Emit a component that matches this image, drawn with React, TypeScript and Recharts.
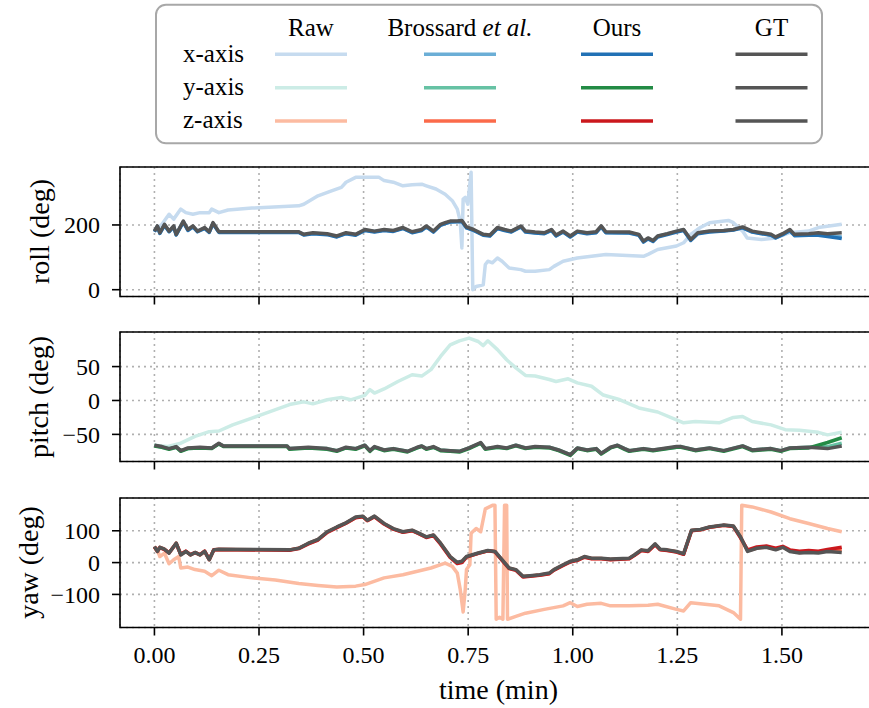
import React from 'react';
import { LineChart, Line, XAxis, YAxis, CartesianGrid, ReferenceArea } from 'recharts';

// ---------- shared axis data ----------
const timeTicks = [0, 0.25, 0.5, 0.75, 1.0, 1.25, 1.5];
const xDomain: [number, number] = [-0.0823, 1.7273];

// ---------- roll ----------
const rollTicks = [0, 200];
const rollDomain: [number, number] = [-21, 379];
const rollRawT = [0, 0.018, 0.035, 0.046, 0.063, 0.075, 0.092, 0.109, 0.131, 0.137, 0.154, 0.176, 0.233, 0.345, 0.357, 0.391, 0.425, 0.447, 0.458, 0.481, 0.537, 0.549, 0.571, 0.594, 0.616, 0.639, 0.65, 0.673, 0.695, 0.712, 0.724, 0.731, 0.735, 0.738, 0.743, 0.749, 0.757, 0.761, 0.769, 0.786, 0.791, 0.797, 0.808, 0.82, 0.831, 0.848, 0.876, 0.887, 0.91, 0.944, 0.955, 0.977, 1.011, 1.079, 1.169, 1.18, 1.203, 1.248, 1.265, 1.282, 1.305, 1.327, 1.372, 1.384, 1.406, 1.417, 1.451, 1.485, 1.519, 1.564, 1.587, 1.643];
const rollRaw = [181, 202, 233, 218, 249, 238, 233, 238, 238, 249, 238, 246, 252, 259, 264, 290, 306, 316, 332, 347, 347, 337, 332, 321, 324, 326, 321, 311, 295, 275, 249, 212, 129, 280, 285, 264, 363, 0, 10, 15, 78, 88, 83, 98, 88, 67, 62, 57, 57, 62, 72, 88, 98, 109, 103, 109, 124, 135, 145, 171, 192, 207, 214, 207, 181, 160, 155, 160, 176, 181, 192, 202];
const rollT = [0, 0.007, 0.013, 0.024, 0.035, 0.046, 0.052, 0.069, 0.08, 0.092, 0.103, 0.12, 0.131, 0.14, 0.154, 0.345, 0.357, 0.379, 0.413, 0.436, 0.458, 0.481, 0.503, 0.526, 0.549, 0.571, 0.594, 0.616, 0.639, 0.65, 0.667, 0.684, 0.695, 0.707, 0.724, 0.735, 0.746, 0.763, 0.786, 0.802, 0.82, 0.837, 0.853, 0.876, 0.887, 0.91, 0.932, 0.949, 0.96, 0.977, 0.994, 1.011, 1.034, 1.056, 1.068, 1.079, 1.135, 1.158, 1.169, 1.18, 1.192, 1.203, 1.226, 1.248, 1.265, 1.282, 1.299, 1.327, 1.361, 1.384, 1.406, 1.429, 1.451, 1.474, 1.485, 1.502, 1.519, 1.53, 1.564, 1.587, 1.609, 1.643];
const rollGT = [181, 197, 176, 202, 181, 197, 171, 212, 186, 197, 181, 192, 179, 207, 179, 179, 171, 176, 173, 166, 176, 171, 186, 181, 186, 183, 192, 179, 186, 197, 181, 202, 207, 212, 212, 214, 194, 186, 171, 169, 192, 186, 181, 197, 181, 178, 176, 186, 169, 181, 166, 181, 176, 179, 197, 179, 178, 171, 150, 160, 152, 166, 173, 181, 186, 155, 176, 181, 183, 186, 194, 181, 176, 171, 163, 173, 186, 171, 173, 176, 173, 176];
const rollOurs = [179, 195, 174, 199, 179, 194, 169, 209, 183, 194, 179, 189, 177, 204, 177, 177, 169, 173, 170, 163, 173, 168, 183, 178, 183, 180, 189, 176, 183, 194, 178, 199, 204, 209, 210, 211, 191, 183, 168, 166, 189, 183, 178, 194, 178, 175, 173, 183, 166, 178, 163, 178, 173, 176, 194, 176, 175, 168, 147, 157, 149, 163, 170, 178, 183, 152, 173, 178, 181, 184, 191, 178, 173, 168, 160, 170, 182, 167, 168, 168, 164, 158];
const rollBross = [180, 196, 175, 200, 180, 195, 170, 210, 185, 195, 180, 190, 178, 205, 178, 178, 170, 174, 171, 164, 174, 170, 184, 180, 184, 181, 190, 177, 184, 195, 180, 200, 205, 210, 211, 212, 192, 184, 170, 167, 190, 184, 180, 195, 180, 176, 174, 184, 167, 179, 164, 179, 175, 177, 195, 177, 176, 170, 149, 158, 151, 165, 172, 180, 185, 154, 175, 180, 182, 185, 192, 179, 174, 169, 161, 171, 183, 169, 170, 171, 167, 163];

// ---------- pitch ----------
const pitchTicks = [-50, 0, 50];
const pitchDomain: [number, number] = [-90, 101];
const pitchRawT = [0, 0.03, 0.063, 0.097, 0.131, 0.154, 0.187, 0.233, 0.278, 0.323, 0.357, 0.379, 0.413, 0.447, 0.469, 0.503, 0.515, 0.526, 0.549, 0.582, 0.616, 0.639, 0.661, 0.684, 0.707, 0.729, 0.752, 0.774, 0.786, 0.797, 0.82, 0.842, 0.864, 0.887, 0.91, 0.944, 0.96, 0.989, 1.011, 1.045, 1.073, 1.113, 1.158, 1.203, 1.248, 1.265, 1.293, 1.35, 1.384, 1.406, 1.429, 1.474, 1.508, 1.542, 1.587, 1.609, 1.643];
const pitchRaw = [-66, -68, -63, -53, -46, -45, -36, -26, -16, -6, -2, -5, 1, 4.5, 1, 7.5, 16, 11, 17, 28, 38, 36, 45.5, 65, 82, 88, 92, 87, 81, 88, 75, 60, 48, 37, 36, 31, 28, 32, 26, 21, 8, 1, -11, -17, -28.5, -33, -31, -33, -25, -23.6, -31, -36, -43, -44, -47, -50.7, -47];
const pitchT = [0, 0.018, 0.035, 0.052, 0.063, 0.08, 0.109, 0.137, 0.154, 0.165, 0.317, 0.323, 0.368, 0.413, 0.436, 0.458, 0.481, 0.503, 0.515, 0.526, 0.549, 0.571, 0.605, 0.628, 0.639, 0.65, 0.667, 0.684, 0.707, 0.729, 0.752, 0.78, 0.791, 0.82, 0.842, 0.864, 0.887, 0.91, 0.944, 0.966, 0.994, 1.011, 1.034, 1.056, 1.068, 1.09, 1.107, 1.124, 1.135, 1.169, 1.192, 1.248, 1.259, 1.293, 1.327, 1.361, 1.406, 1.429, 1.474, 1.497, 1.519, 1.564, 1.609, 1.643];
const pitchGT = [-66, -68, -71, -68, -74, -70, -69, -70, -63, -67, -67, -71, -69, -71, -74, -69, -71, -66, -74, -68, -73, -71, -75, -69, -67, -71, -68, -73, -74, -75, -70, -62, -71, -68, -70, -66, -70, -68, -69, -73, -80, -70, -73, -71, -78, -69, -66, -71, -74, -71, -73, -68, -68, -73, -70, -74, -67, -73, -71, -74, -70, -69, -71, -67];
const pitchOurs = [-67, -69, -72, -69, -75, -71, -70, -71, -64, -68, -68, -72, -70, -72, -75, -70, -72, -67, -75, -69, -74, -72, -76, -70, -68, -72, -69, -74, -75, -76, -71, -63, -72, -69, -71, -67, -71, -69, -70, -74, -81, -71, -74, -72, -79, -70, -67, -72, -75, -72, -74, -69, -69, -74, -71, -75, -68, -74, -72, -75, -71, -70, -62, -55];
const pitchBross = [-66, -69, -71, -69, -74, -71, -70, -70, -64, -67, -67, -71, -70, -71, -74, -70, -71, -66, -74, -69, -73, -71, -75, -70, -67, -71, -69, -73, -74, -75, -70, -63, -71, -69, -70, -66, -70, -69, -69, -73, -80, -70, -73, -71, -78, -70, -66, -71, -74, -71, -73, -69, -68, -73, -70, -74, -67, -73, -71, -74, -70, -69, -68, -63];

// ---------- yaw ----------
const yawTicks = [-100, 0, 100];
const yawDomain: [number, number] = [-204, 203];
const yawRawT = [0, 0.007, 0.013, 0.024, 0.035, 0.046, 0.058, 0.063, 0.08, 0.097, 0.12, 0.137, 0.154, 0.176, 0.233, 0.289, 0.345, 0.391, 0.436, 0.481, 0.503, 0.549, 0.594, 0.661, 0.695, 0.712, 0.724, 0.731, 0.738, 0.743, 0.746, 0.754, 0.757, 0.769, 0.78, 0.791, 0.808, 0.814, 0.817, 0.825, 0.833, 0.837, 0.842, 0.844, 0.864, 0.887, 0.932, 0.977, 0.994, 1.011, 1.034, 1.068, 1.09, 1.135, 1.18, 1.203, 1.248, 1.265, 1.282, 1.316, 1.35, 1.384, 1.401, 1.404, 1.429, 1.474, 1.519, 1.564, 1.609, 1.643];
const yawRaw = [50, 40, 19, 29.5, -3.6, 8.8, 19, -17, -14, -22, -27.5, -41, -24, -38, -48, -55, -66, -72, -77, -74, -69, -48, -38, -17, -1.5, -12, -33, -84, -155, -84, -22, -7, 92, 107, 97, 169, 180, 180, -178, -172, -178, 180, 180, -178, -169, -159, -147, -136, -126, -138, -131, -128, -136, -136, -134, -131, -147, -152, -126, -131, -136, -157, -178, 180, 175, 159, 138, 123, 107, 97];
const yawT = [0, 0.007, 0.013, 0.024, 0.035, 0.052, 0.063, 0.075, 0.086, 0.097, 0.109, 0.12, 0.131, 0.142, 0.154, 0.323, 0.345, 0.368, 0.391, 0.413, 0.436, 0.458, 0.481, 0.498, 0.509, 0.526, 0.549, 0.571, 0.594, 0.616, 0.633, 0.65, 0.667, 0.684, 0.707, 0.724, 0.735, 0.746, 0.774, 0.797, 0.814, 0.831, 0.848, 0.864, 0.881, 0.898, 0.921, 0.944, 0.955, 0.977, 0.994, 1.011, 1.028, 1.045, 1.068, 1.09, 1.135, 1.147, 1.164, 1.18, 1.197, 1.209, 1.226, 1.248, 1.265, 1.284, 1.305, 1.327, 1.361, 1.384, 1.401, 1.418, 1.44, 1.463, 1.485, 1.502, 1.519, 1.542, 1.564, 1.587, 1.609, 1.643];
const yawGT = [50, 35, 48, 42, 30, 61, 24, 35, 24, 32, 24, 35, 9, 40, 42, 40, 45, 61, 73, 97, 112, 125, 143, 146, 133, 146, 123, 107, 97, 102, 92, 81, 87, 61, 19, 1, 4, 19, 30, 38, 35, 9, -17, -22, -43, -41, -38, -33, -22, -7, 4, 9, 19, 14, 14, 11, 14, 24, 40, 37, 59, 42, 40, 35, 28, 102, 104, 112, 118, 115, 81, 35, 45, 48, 40, 48, 35, 30, 32, 30, 35, 32];
const yawOurs = [50, 36, 47, 41, 31, 60, 26, 36, 25, 31, 25, 36, 10, 40, 41, 39, 44, 59, 71, 95, 110, 124, 141, 144, 132, 144, 121, 105, 95, 100, 90, 79, 85, 58, 16, -3, 0, 17, 29, 37, 34, 7, -19, -24, -45, -43, -40, -35, -24, -9, 2, 7, 17, 12, 12, 9, 12, 22, 38, 35, 56, 40, 38, 33, 26, 100, 103, 111, 117, 113, 78, 40, 49, 52, 45, 51, 40, 36, 38, 36, 41, 48];
const yawBross = [49, 35, 48, 42, 30, 61, 25, 35, 24, 32, 24, 35, 9, 40, 41, 40, 45, 60, 72, 96, 111, 124, 142, 145, 132, 145, 122, 106, 96, 101, 91, 80, 86, 60, 18, -1, 2, 18, 29, 37, 35, 8, -18, -23, -44, -42, -39, -34, -23, -8, 3, 8, 18, 13, 13, 10, 13, 23, 39, 36, 57, 41, 39, 34, 27, 101, 103, 111, 117, 114, 80, 37, 46, 49, 42, 49, 37, 32, 34, 33, 38, 40];

// ---------- legend ----------
const legendCols = ['Raw', 'Brossard', 'Ours', 'GT'];
const legendRows = ['x-axis', 'y-axis', 'z-axis'];
const rawColors = ['#c6dbef', '#ccece6', '#fcbba1'];
const brossColors = ['#6baed6', '#66c2a4', '#fb6a4a'];
const oursColors = ['#2171b5', '#238b45', '#cb181d'];
const gtColor = '#555555';

const FONT = "'Liberation Serif', 'Times New Roman', serif";
const pts = (t: number[], v: number[]) => t.map((x, i) => ({ t: x, v: v[i] }));
const fmtTime = (v: number) => v.toFixed(2);
const fmtNum = (v: number) => (v < 0 ? '\u2212' + Math.abs(v) : String(v));

type Series = { data: { t: number; v: number }[]; color: string; width: number };

function Panel({ top, height, yDomain, yTicks, series, showLabels }: {
  top: number; height: number; yDomain: [number, number]; yTicks: number[]; series: Series[]; showLabels: boolean;
}) {
  const xh = showLabels ? 60 : 20;
  const tickStyle = { fontSize: 24, fill: '#000', fontFamily: FONT };
  return (
    <div style={{ position: 'absolute', left: 0, top: top - 5 }}>
      <LineChart width={882} height={height + 5 + xh} margin={{ top: 5, right: 5, bottom: 0, left: 0 }}>
        <CartesianGrid stroke="#b0b0b0" strokeDasharray="2 4" strokeWidth={1.6} />
        <XAxis
          type="number" dataKey="t" domain={xDomain} ticks={timeTicks} allowDataOverflow interval={0}
          height={xh} tickSize={8} tickMargin={10} axisLine={false}
          tickLine={{ stroke: '#000', strokeWidth: 1.6 }} tick={tickStyle}
          tickFormatter={showLabels ? fmtTime : () => ''}
        />
        <YAxis
          type="number" domain={yDomain} ticks={yTicks} allowDataOverflow interval={0}
          width={120} tickSize={8} tickMargin={12} axisLine={false}
          tickLine={{ stroke: '#000', strokeWidth: 1.6 }} tick={tickStyle} tickFormatter={fmtNum}
        />
        {series.map((s, i) => (
          <Line key={i} data={s.data} dataKey="v" type="linear" stroke={s.color} strokeWidth={s.width}
            dot={false} activeDot={false} isAnimationActive={false} strokeLinejoin="round" />
        ))}
        <ReferenceArea x1={xDomain[0]} x2={xDomain[1]} y1={yDomain[0]} y2={yDomain[1]}
          fill="none" fillOpacity={0} stroke="#000" strokeWidth={1.6} ifOverflow="visible" />
      </LineChart>
    </div>
  );
}

function Legend() {
  const colCenters = [311, 460, 617, 771.5];
  const rowYs = [54.3, 87.7, 121];
  const colColors = [rawColors, brossColors, oursColors, [gtColor, gtColor, gtColor]];
  return (
    <g fontFamily={FONT} fontSize={25} fill="#000">
      <rect x={156} y={4.7} width={666} height={138.6} rx={10} ry={10} fill="#fff" stroke="#a8a8a8" strokeWidth={2} />
      {legendCols.map((c, i) => (
        <text key={c} x={colCenters[i]} y={36} textAnchor="middle">
          {c === 'Brossard' ? (<>{'Brossard '}<tspan fontStyle="italic">et al.</tspan></>) : c}
        </text>
      ))}
      {legendRows.map((r, j) => (
        <g key={r}>
          <text x={183} y={rowYs[j] + 7.4}>{r}</text>
          {colCenters.map((cx, i) => (
            <line key={i} x1={cx - 36} x2={cx + 36} y1={rowYs[j]} y2={rowYs[j]} stroke={colColors[i][j]} strokeWidth={3.4} />
          ))}
        </g>
      ))}
    </g>
  );
}

export default function App() {
  const w = 3.5;
  const rollSeries: Series[] = [
    { data: pts(rollRawT, rollRaw), color: rawColors[0], width: w },
    { data: pts(rollT, rollBross), color: brossColors[0], width: w },
    { data: pts(rollT, rollOurs), color: oursColors[0], width: w },
    { data: pts(rollT, rollGT), color: gtColor, width: w },
  ];
  const pitchSeries: Series[] = [
    { data: pts(pitchRawT, pitchRaw), color: rawColors[1], width: w },
    { data: pts(pitchT, pitchBross), color: brossColors[1], width: w },
    { data: pts(pitchT, pitchOurs), color: oursColors[1], width: w },
    { data: pts(pitchT, pitchGT), color: gtColor, width: w },
  ];
  const yawSeries: Series[] = [
    { data: pts(yawRawT, yawRaw), color: rawColors[2], width: w },
    { data: pts(yawT, yawBross), color: brossColors[2], width: w },
    { data: pts(yawT, yawOurs), color: oursColors[2], width: w },
    { data: pts(yawT, yawGT), color: gtColor, width: w },
  ];
  return (
    <div style={{ position: 'absolute', left: 0, top: 0, width: 869, height: 708, overflow: 'hidden', background: '#fff', fontFamily: FONT }}>
      <Panel top={166.7} height={129.5} yDomain={rollDomain} yTicks={rollTicks} series={rollSeries} showLabels={false} />
      <Panel top={332.2} height={129.5} yDomain={pitchDomain} yTicks={pitchTicks} series={pitchSeries} showLabels={false} />
      <Panel top={497.7} height={129.5} yDomain={yawDomain} yTicks={yawTicks} series={yawSeries} showLabels={true} />
      <svg width={869} height={708} style={{ position: 'absolute', left: 0, top: 0, pointerEvents: 'none' }}>
        <Legend />
        <g fontFamily={FONT} fontSize={28} fill="#000">
          <text x={498.5} y={699} textAnchor="middle">time (min)</text>
          <text x={49} y={231.5} textAnchor="middle" transform="rotate(-90 49 231.5)">roll (deg)</text>
          <text x={48} y={397} textAnchor="middle" transform="rotate(-90 48 397)">pitch (deg)</text>
          <text x={38} y={562.5} textAnchor="middle" transform="rotate(-90 38 562.5)">yaw (deg)</text>
        </g>
      </svg>
    </div>
  );
}
